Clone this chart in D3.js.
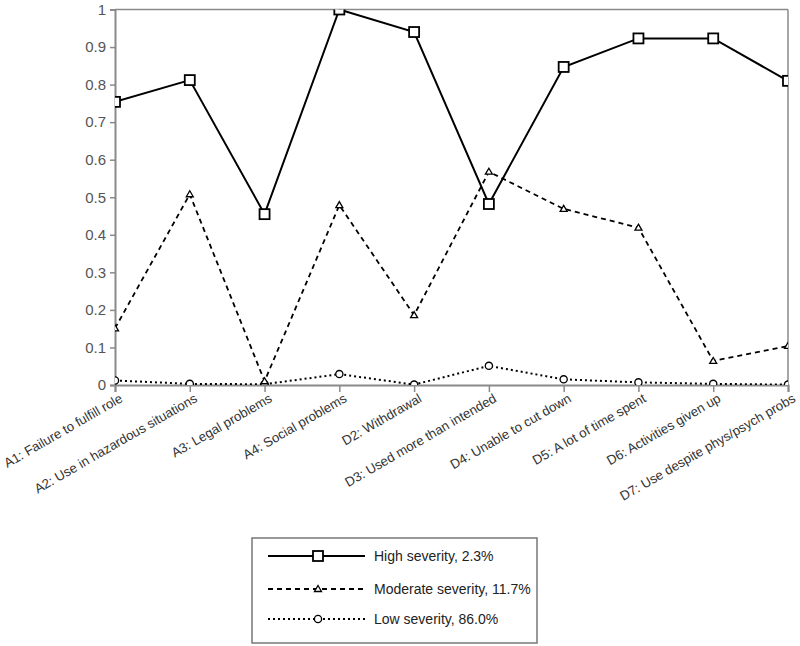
<!DOCTYPE html>
<html><head><meta charset="utf-8">
<script src="https://cdn.jsdelivr.net/npm/d3@7"></script>
<style>body{margin:0;background:#fff}svg{display:block}</style>
</head><body>
<svg id="c" width="800" height="646"></svg>
<script>
const categories = ["A1: Failure to fulfill role","A2: Use in hazardous situations","A3: Legal problems","A4: Social problems","D2: Withdrawal","D3: Used more than intended","D4: Unable to cut down","D5: A lot of time spent","D6: Activities given up","D7: Use despite phys/psych probs"];
const highSeverity = [0.754,0.812,0.455,1.0,0.94,0.482,0.847,0.923,0.923,0.81];
const moderateSeverity = [0.151,0.508,0.01,0.479,0.186,0.568,0.469,0.419,0.064,0.104];
const lowSeverity = [0.012,0.003,0.002,0.029,0.001,0.051,0.015,0.007,0.003,0.001];
const seriesNames = ["High severity, 2.3%","Moderate severity, 11.7%","Low severity, 86.0%"];
const yTicks = [0,0.1,0.2,0.3,0.4,0.5,0.6,0.7,0.8,0.9,1];
const yTickLabels = ["0","0.1","0.2","0.3","0.4","0.5","0.6","0.7","0.8","0.9","1"];

const svg = d3.select("#c");
const L=115, R=788, T=9.5, B=385;
const x = d3.scalePoint().domain(categories).range([L,R]);
const y = d3.scaleLinear().domain([0,1]).range([B,T]);
const font = "'Liberation Sans', Arial, sans-serif";

svg.append("defs").append("clipPath").attr("id","pc").append("rect")
  .attr("x",L).attr("y",T).attr("width",R-L).attr("height",B-T);

// frame top/right
svg.append("line").attr("x1",L).attr("x2",R).attr("y1",T).attr("y2",T).attr("stroke","#8a8a8a").attr("stroke-width",1.5);
svg.append("line").attr("x1",R).attr("x2",R).attr("y1",T).attr("y2",B).attr("stroke","#8a8a8a").attr("stroke-width",1.5);

// y axis
const ya = svg.append("g").attr("transform",`translate(${L},0)`)
  .call(d3.axisLeft(y).tickValues(yTicks).tickFormat((d,i)=>yTickLabels[i]).tickSize(5).tickPadding(4));
ya.select(".domain").attr("stroke","#8a8a8a").attr("stroke-width",2);
ya.selectAll(".tick line").attr("stroke","#8a8a8a").attr("stroke-width",1.5);
ya.selectAll("text").attr("fill","#555").style("font-family",font).style("font-size","15px");

// x axis
const xa = svg.append("g").attr("transform",`translate(0,${B})`)
  .call(d3.axisBottom(x).tickSize(7).tickFormat(""));
xa.select(".domain").attr("stroke","#8a8a8a").attr("stroke-width",2);
xa.selectAll(".tick line").attr("stroke","#8a8a8a").attr("stroke-width",1.5);
xa.selectAll(".tick").append("text")
  .attr("transform","translate(8,16) rotate(-30)")
  .attr("text-anchor","end").attr("fill","#333")
  .style("font-family",font).style("font-size","13.2px")
  .text(d=>d);

const series = [
  {vals:highSeverity, dash:null, w:2, marker:"square"},
  {vals:moderateSeverity, dash:"5,4", w:1.8, marker:"triangle"},
  {vals:lowSeverity, dash:"2,3", w:2, marker:"circle"}
];
const line = d3.line().x((d,i)=>x(categories[i])).y(d=>y(d));
const plot = svg.append("g").attr("clip-path","url(#pc)");

function drawMarker(g, type, cx, cy){
  if(type==="square"){
    g.append("rect").attr("x",cx-5).attr("y",cy-5).attr("width",10).attr("height",10)
      .attr("fill","#fff").attr("stroke","#000").attr("stroke-width",1.8);
  } else if(type==="triangle"){
    g.append("path").attr("d",`M${cx},${cy-3.5}L${cx+3.5},${cy+2.5}L${cx-3.5},${cy+2.5}Z`)
      .attr("fill","#fff").attr("stroke","#000").attr("stroke-width",1.3);
  } else {
    g.append("circle").attr("cx",cx).attr("cy",cy).attr("r",3.6)
      .attr("fill","#fff").attr("stroke","#000").attr("stroke-width",1.3);
  }
}

series.slice().reverse().forEach(s=>{
  plot.append("path").datum(s.vals).attr("d",line).attr("fill","none")
    .attr("stroke","#000").attr("stroke-width",s.w)
    .attr("stroke-dasharray",s.dash);
});
series.slice().reverse().forEach(s=>{
  s.vals.forEach((v,i)=>drawMarker(plot,s.marker,x(categories[i]),y(v)));
});

// legend
const lg = svg.append("g");
lg.append("rect").attr("x",252).attr("y",538).attr("width",285).attr("height",105)
  .attr("fill","#fff").attr("stroke","#777").attr("stroke-width",1.5);
const rows=[556,589,619];
series.forEach((s,i)=>{
  lg.append("line").attr("x1",268).attr("x2",365).attr("y1",rows[i]).attr("y2",rows[i])
    .attr("stroke","#000").attr("stroke-width",s.w).attr("stroke-dasharray",s.dash);
  drawMarker(lg,s.marker,318,rows[i]);
  lg.append("text").attr("x",374).attr("y",rows[i]+5).attr("fill","#222")
    .style("font-family",font).style("font-size","14px").text(seriesNames[i]);
});
</script>
</body></html>
